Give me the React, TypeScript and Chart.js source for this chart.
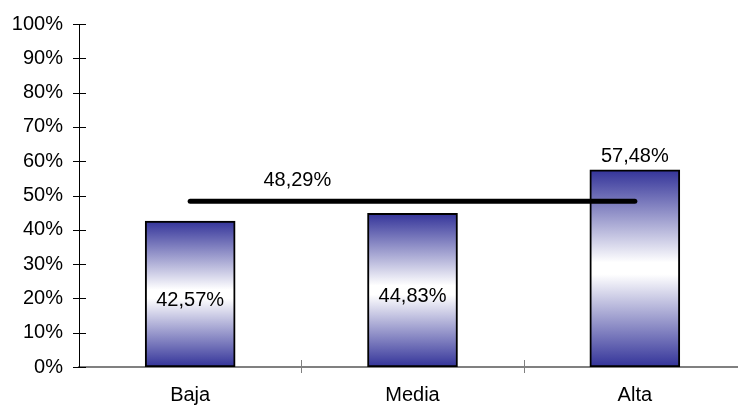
import React, { useEffect, useRef } from "react";
import { Chart, registerables } from "chart.js";

Chart.register(...registerables);

const categories = ["Baja", "Media", "Alta"];
const barValues = [42.57, 44.83, 57.48];
const averageValue = 48.29;
const averageLine = [averageValue, averageValue, averageValue];
const yTickStep = 10;
const yMax = 100;

const FONT = "'Liberation Sans', Arial, sans-serif";
const FONT_SIZE = 20;

const fmt = (v: number) => v.toFixed(2).replace(".", ",") + "%";

const overlayPlugin = {
  id: "overlay",
  afterDraw(chart: any) {
    const ctx = chart.ctx;
    const x = chart.scales.x;
    const y = chart.scales.y;
    const area = chart.chartArea;
    ctx.save();
    ctx.strokeStyle = "#000";
    ctx.lineWidth = 1;
    for (let v = 0; v <= yMax; v += yTickStep) {
      const py = Math.round(y.getPixelForValue(v)) + 0.5;
      ctx.beginPath();
      ctx.moveTo(area.left - 6, py);
      ctx.lineTo(area.left + 7, py);
      ctx.stroke();
    }
    ctx.strokeStyle = "#808080";
    const bottom = Math.round(area.bottom);
    for (let i = 1; i < categories.length; i++) {
      const px = Math.round((x.getPixelForValue(i - 1) + x.getPixelForValue(i)) / 2) + 0.5;
      ctx.beginPath();
      ctx.moveTo(px, bottom - 7);
      ctx.lineTo(px, bottom + 6);
      ctx.stroke();
    }
    ctx.fillStyle = "#000";
    ctx.font = `${FONT_SIZE}px ${FONT}`;
    ctx.textAlign = "center";
    ctx.textBaseline = "middle";
    const meta = chart.getDatasetMeta(0);
    meta.data.forEach((bar: any, i: number) => {
      const v = barValues[i];
      let ly;
      if (i === 2) {
        ly = bar.y - 13;
      } else {
        ly = (bar.y + bar.base) / 2 + 6;
      }
      ctx.fillText(fmt(v), bar.x, ly);
    });
    const lx = (x.getPixelForValue(0) + x.getPixelForValue(1)) / 2 - 4;
    const ly = y.getPixelForValue(averageValue) - 21;
    ctx.fillText(fmt(averageValue), lx, ly);
    ctx.restore();
  },
};

export default function App() {
  const ref = useRef<HTMLCanvasElement | null>(null);
  useEffect(() => {
    if (!ref.current) return;
    const chart = new Chart(ref.current, {
      type: "bar",
      data: {
        labels: categories,
        datasets: [
          {
            type: "bar",
            data: barValues,
            order: 2,
            backgroundColor: (c: any) => {
              const ch = c.chart;
              const ys = ch.scales?.y;
              if (!ys || !ch.chartArea || c.dataIndex === undefined) return "#333399";
              const top = ys.getPixelForValue(barValues[c.dataIndex]);
              const bot = ys.getPixelForValue(0);
              const g = ch.ctx.createLinearGradient(0, top, 0, bot);
              g.addColorStop(0, "#333399");
              g.addColorStop(0.47, "#ffffff");
              g.addColorStop(0.53, "#ffffff");
              g.addColorStop(1, "#333399");
              return g;
            },
            borderColor: "#000",
            borderWidth: 2,
            borderSkipped: false,
            barThickness: 90,
          } as any,
          {
            type: "line",
            data: averageLine,
            order: 1,
            borderColor: "#000",
            borderWidth: 5,
            borderCapStyle: "round",
            pointRadius: 0,
            fill: false,
          } as any,
        ],
      },
      options: {
        animation: false,
        responsive: false,
        maintainAspectRatio: false,
        layout: { padding: { top: 24, right: 14, left: 0, bottom: 0 }, autoPadding: false },
        plugins: { legend: { display: false }, tooltip: { enabled: false } },
        scales: {
          x: {
            type: "category",
            offset: true,
            grid: { display: false },
            border: { display: true, color: "#808080", width: 2 },
            ticks: { color: "#000", font: { family: FONT, size: FONT_SIZE }, padding: 8 },
            afterFit: (s: any) => {
              s.height = 40;
              s.paddingLeft = 0;
              s.paddingRight = 0;
            },
          },
          y: {
            min: 0,
            max: yMax,
            grid: { display: false },
            border: { display: true, color: "#000", width: 1 },
            ticks: {
              stepSize: yTickStep,
              color: "#000",
              font: { family: FONT, size: FONT_SIZE },
              padding: 8,
              callback: (v: any) => v + "%",
            },
            afterFit: (s: any) => {
              s.width = 79;
              s.paddingTop = 0;
              s.paddingBottom = 0;
            },
          },
        },
      } as any,
      plugins: [overlayPlugin],
    });
    return () => chart.destroy();
  }, []);
  return (
    <div style={{ position: "absolute", left: 0, top: 0, width: 738, height: 407, overflow: "hidden", background: "#fff" }}>
      <canvas ref={ref} width={760} height={407} style={{ width: 760, height: 407 }} />
    </div>
  );
}
